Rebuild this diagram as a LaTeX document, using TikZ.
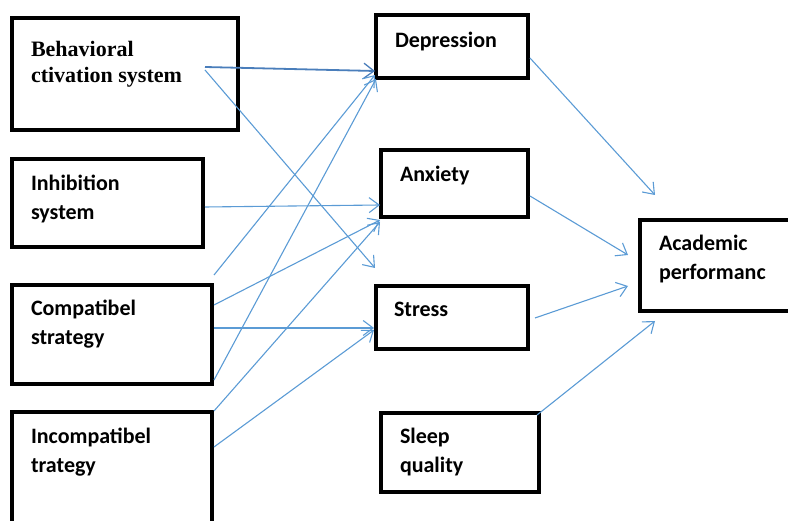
\documentclass[tikz,border=0pt]{standalone}
\usepackage{fontspec}
\setmainfont{Carlito}
\newfontfamily\serifb{Liberation Serif}
\usetikzlibrary{arrows.meta}
\definecolor{arrblue}{HTML}{5B9BD5}
\definecolor{arrdark}{HTML}{4A7EBB}
\begin{document}
\begin{tikzpicture}[x=1pt,y=-1pt,
  box/.style={draw=black,line width=4pt,inner sep=0pt,outer sep=0pt},
  lbl/.style={anchor=base west,inner sep=0pt,outer sep=0pt,align=left,font=\fontsize{22}{29}\selectfont\bfseries},
  slbl/.style={anchor=base west,inner sep=0pt,outer sep=0pt,align=left,font=\serifb\fontsize{22}{26}\selectfont\bfseries},
  conn/.style={draw=arrblue,line width=1.1pt,-{Straight Barb[length=10pt,width=15pt,line width=1.1pt]}},
  connb/.style={draw=arrdark,line width=1.8pt,-{Straight Barb[length=10pt,width=15pt,line width=1.3pt]}}
]
\useasboundingbox (0,0) rectangle (788,521);
\begin{scope}
\clip (0,0) rectangle (788,521);
% boxes
\node[box,minimum width=226pt,minimum height=112pt] (bas) at (125,74) {};
\node[box,minimum width=191pt,minimum height=88pt] (inh) at (107.5,203) {};
\node[box,minimum width=200pt,minimum height=99pt] (comp) at (112,334.5) {};
\node[box,minimum width=200pt,minimum height=128pt] (incomp) at (112,476) {};
\node[box,minimum width=152pt,minimum height=63pt] (dep) at (452,46.5) {};
\node[box,minimum width=147pt,minimum height=67pt] (anx) at (454.5,183.5) {};
\node[box,minimum width=152pt,minimum height=63pt] (str) at (452,317.5) {};
\node[box,minimum width=158pt,minimum height=79pt] (slp) at (460,452.5) {};
\node[box,minimum width=170pt,minimum height=91pt] (acad) at (725,265.5) {};
\end{scope}
% labels (base anchor = baseline of the last line)
\node[slbl] (tbas) at (31,83) {Behavioral\\ctivation system};
\node[lbl] (tinh) at (31,220) {Inhibition\\system};
\node[lbl] (tcomp) at (31,345) {Compatibel\\strategy};
\node[lbl] (tincomp) at (31,473) {Incompatibel\\trategy};
\node[lbl] (tdep) at (395,48) {Depression};
\node[lbl] (tanx) at (400,182) {Anxiety};
\node[lbl] (tstr) at (394,317) {Stress};
\node[lbl] (tslp) at (400,473) {Sleep\\quality};
\node[lbl] (tacad) at (659,280) {Academic\\performanc};
% connector end points
\coordinate (b1) at (205,67);  \coordinate (d1) at (375,71);
\coordinate (b2) at (205,70);  \coordinate (s2) at (375,268);
\coordinate (i3) at (205,207); \coordinate (a3) at (380,205);
\coordinate (c4) at (214,275); \coordinate (d4) at (375,75);
\coordinate (c5) at (214,305); \coordinate (a5) at (380,220);
\coordinate (c6) at (214,328); \coordinate (s6) at (374,328);
\coordinate (c7) at (214,380); \coordinate (d7) at (376,79);
\coordinate (n8) at (214,411); \coordinate (a8) at (380,222);
\coordinate (n9) at (214,447); \coordinate (s9) at (374,330);
\coordinate (e10) at (530,58);  \coordinate (p10) at (655,195);
\coordinate (e11) at (530,196); \coordinate (p11) at (628,255);
\coordinate (e12) at (535,318); \coordinate (p12) at (628,286);
\coordinate (e13) at (537,415); \coordinate (p13) at (655,321);
% connectors
\draw[connb] (b1) -- (d1);
\draw[conn] (b2) -- (s2);
\draw[conn] (i3) -- (a3);
\draw[conn] (c4) -- (d4);
\draw[conn] (c5) -- (a5);
\draw[conn] (c6) -- (s6);
\draw[conn] (c7) -- (d7);
\draw[conn] (n8) -- (a8);
\draw[conn] (n9) -- (s9);
\draw[conn] (e10) -- (p10);
\draw[conn] (e11) -- (p11);
\draw[conn] (e12) -- (p12);
\draw[conn] (e13) -- (p13);
\end{tikzpicture}
\end{document}
